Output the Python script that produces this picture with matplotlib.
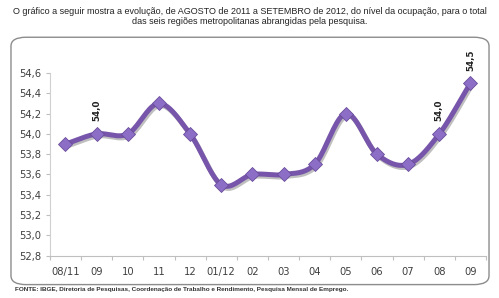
import numpy as np
import matplotlib
matplotlib.use("Agg")
import matplotlib.pyplot as plt
from matplotlib.patches import FancyBboxPatch
import matplotlib.patheffects as pe

categories = ["08/11", "09", "10", "11", "12", "01/12", "02", "03", "04", "05", "06", "07", "08", "09"]
values = [53.9, 54.0, 54.0, 54.3, 54.0, 53.5, 53.6, 53.6, 53.7, 54.2, 53.8, 53.7, 54.0, 54.5]
labeled = [1, 12, 13]
yticks = [52.8, 53.0, 53.2, 53.4, 53.6, 53.8, 54.0, 54.2, 54.4, 54.6]

title = ("O gráfico a seguir mostra a evolução, de AGOSTO de 2011 a SETEMBRO de 2012, do nível da ocupação, para o total\n"
         "das seis regiões metropolitanas abrangidas pela pesquisa.")
source = "FONTE: IBGE, Diretoria de Pesquisas, Coordenação de Trabalho e Rendimento, Pesquisa Mensal de Emprego."

fam = ["Liberation Sans Narrow", "Liberation Sans", "DejaVu Sans"]

fig = plt.figure(figsize=(4.99, 2.98), dpi=100)
fig.patch.set_facecolor("white")

box = FancyBboxPatch((0.022, 0.045), 0.958, 0.83, boxstyle="round,pad=0,rounding_size=0.03",
                     transform=fig.transFigure, facecolor="white", edgecolor="#8c8c8c", linewidth=1.0,
                     zorder=-10)
fig.patches.append(box)

fig.text(0.5, 0.978, title, ha="center", va="top", fontsize=6.5, family=fam, color="#222222", linespacing=1.25)
fig.text(0.03, 0.03, source, ha="left", va="center", fontsize=4.6, family=fam, weight="bold", color="#333333")

ax = fig.add_axes([0.1, 0.142, 0.874, 0.613])
ax.set_zorder(5)
x = np.arange(len(values))
y = np.array(values)

# Smooth curve (Catmull-Rom) through the data points, like Excel's smoothed line
def catmull(xs, ys, n=20):
    px = np.concatenate([[2*xs[0]-xs[1]], xs, [2*xs[-1]-xs[-2]]])
    py = np.concatenate([[2*ys[0]-ys[1]], ys, [2*ys[-1]-ys[-2]]])
    ox, oy = [], []
    for i in range(1, len(px)-2):
        t = np.linspace(0, 1, n, endpoint=False)
        for arr, out in ((px, ox), (py, oy)):
            p0, p1, p2, p3 = arr[i-1], arr[i], arr[i+1], arr[i+2]
            out.extend(0.5*((2*p1) + (-p0+p2)*t + (2*p0-5*p1+4*p2-p3)*t**2 + (-p0+3*p1-3*p2+p3)*t**3))
    ox.append(xs[-1]); oy.append(ys[-1])
    return np.array(ox), np.array(oy)

sx, sy = catmull(x.astype(float), y)
ax.plot(sx, sy, color="#7755aa", linewidth=3.6, solid_capstyle="round", zorder=3,
        path_effects=[pe.SimpleLineShadow(offset=(1, -1.5), alpha=0.25), pe.Normal()])
ax.plot(x, y, linestyle="none", marker="D", markersize=7.5, markerfacecolor="#8c6ec6",
        markeredgecolor="#6a4c9c", markeredgewidth=0.6, zorder=4)

for i in labeled:
    ax.annotate(f"{values[i]:.1f}".replace(".", ","), (x[i], y[i]), xytext=(0, 9), textcoords="offset points",
                rotation=90, ha="center", va="bottom", fontsize=6.3, weight="bold", color="#222222", zorder=5,
                annotation_clip=False)

ax.set_xlim(-0.5, len(values) - 0.5)
ax.set_ylim(52.8, 54.6)
ax.set_yticks(yticks)
ax.set_yticklabels([f"{v:.1f}".replace(".", ",") for v in yticks], fontsize=7.2, color="#404040")
ax.set_xticks(x)
ax.set_xticklabels(categories, fontsize=7.2, color="#404040")
ax.set_xticks(np.arange(-0.5, len(values), 1.0), minor=True)
ax.tick_params(axis="x", which="major", length=0, pad=8)
ax.tick_params(axis="x", which="minor", length=3, color="#bfbfbf", width=0.8)
ax.tick_params(axis="y", length=3, color="#bfbfbf", width=0.8, pad=3)
for s in ["top", "right"]:
    ax.spines[s].set_visible(False)
ax.spines["left"].set_color("#d0d0d0")
ax.spines["bottom"].set_color("#bfbfbf")
ax.patch.set_alpha(0)

fig.savefig("out.png", dpi=100)
